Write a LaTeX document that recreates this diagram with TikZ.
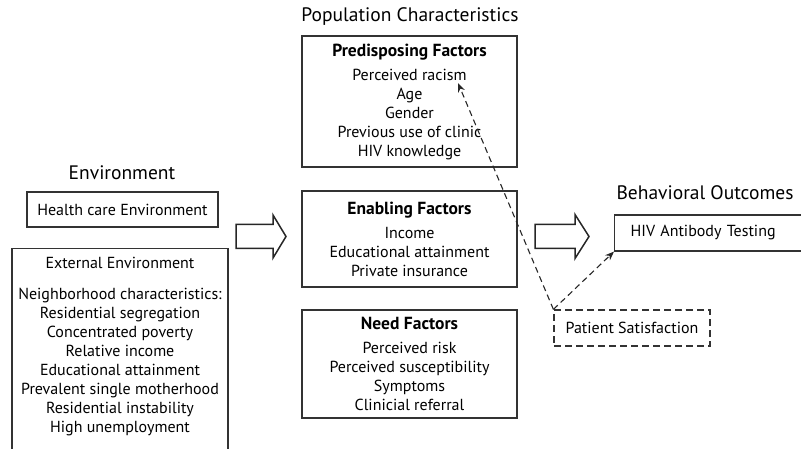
\documentclass[tikz,border=0pt]{standalone}
\usepackage{fontspec}
\setmainfont{PT Sans}
\usetikzlibrary{
  positioning,
  arrows.meta
}

\begin{document}
\begin{tikzpicture}[
  x=1pt, y=-1pt,
  font=\fontsize{16}{19}\selectfont,
  factorbox/.style={
    rectangle,
    draw=black!80,
    line width=1.2pt,
    minimum width=215pt,
    align=center,
    inner sep=0pt
  },
  plainbox/.style={
    rectangle,
    draw=black!80,
    line width=1.2pt,
    inner sep=0pt
  },
  dashbox/.style={
    rectangle,
    draw=black!80,
    line width=1.2pt,
    dash pattern=on 7pt off 4pt,
    inner sep=0pt
  },
  grouptitle/.style={
    font=\fontsize{19.5}{22}\selectfont
  },
  blockarrow/.style={
    draw=black!85,
    line width=1.5pt,
    line join=miter
  },
  dasharrow/.style={
    -{Stealth[length=9pt, width=7pt]},
    line width=1.1pt,
    dash pattern=on 6pt off 4pt,
    draw=black!85
  }
]
\path[use as bounding box, clip] (0,0) rectangle (801,449);
\newcommand{\boxtitle}[1]{{\fontsize{17.5}{19}\selectfont\bfseries #1}}

% Environment (left column)
\node[grouptitle] (envtitle) at (122,173) {Environment};
\node[plainbox, minimum width=191pt, minimum height=35pt] (hce) at (122.5,209.5)
  {Health care Environment};
\node[plainbox, anchor=north, minimum width=216pt, minimum height=240pt] (ext) at (120,248) {};
\node[align=center, anchor=north, inner sep=0pt] (exttxt) at (120,257) {
  External Environment\\[12pt]
  Neighborhood characteristics:\\
  Residential segregation\\
  Concentrated poverty\\
  Relative income\\
  Educational attainment\\
  Prevalent single motherhood\\
  Residential instability\\
  High unemployment
};

% Population Characteristics (middle column)
\node[grouptitle] (poptitle) at (410,17) {Population Characteristics};
\node[factorbox, minimum height=131pt] (pre) at (409.5,101.5) {
  \boxtitle{Predisposing Factors}\\[5pt]
  Perceived racism\\
  Age\\
  Gender\\
  Previous use of clinic\\
  HIV knowledge
};
\node[factorbox, minimum height=96pt] (ena) at (409.5,239) {
  \boxtitle{Enabling Factors}\\[5pt]
  Income\\
  Educational attainment\\
  Private insurance
};
\node[factorbox, minimum height=108pt] (need) at (409.5,364) {
  \boxtitle{Need Factors}\\[5pt]
  Perceived risk\\
  Perceived susceptibility\\
  Symptoms\\
  Clinicial referral
};
\coordinate (racism) at (458,83);

% Behavioral Outcomes (right column)
\node[grouptitle] (behtitle) at (705,193) {Behavioral Outcomes};
\node[plainbox, anchor=west, minimum height=36pt, text width=200pt,
  inner xsep=16pt, align=left] (hiv) at (614,233) {HIV Antibody Testing};
\node[dashbox, minimum width=156pt, minimum height=36pt] (ps) at (632,328)
  {Patient Satisfaction};

% Block arrows between columns
\coordinate (arrowin) at (236,236.5);
\coordinate (arrowout) at (535,236.5);
\draw[blockarrow] (arrowin) ++(0,-12) -- ++(37,0) -- ++(0,-9.5) -- ++(13,21.5)
  -- ++(-13,21.5) -- ++(0,-9.5) -- ++(-37,0) -- cycle;
\draw[blockarrow] (arrowout) ++(0,-12) -- ++(40,0) -- ++(0,-10) -- ++(14,22)
  -- ++(-14,22) -- ++(0,-10) -- ++(-40,0) -- cycle;

% Dashed effects of satisfaction
\draw[dasharrow] (ps.north west) -- (hiv.south west);
\draw[dasharrow] (ps.north west) -- (racism);

\end{tikzpicture}
\end{document}
